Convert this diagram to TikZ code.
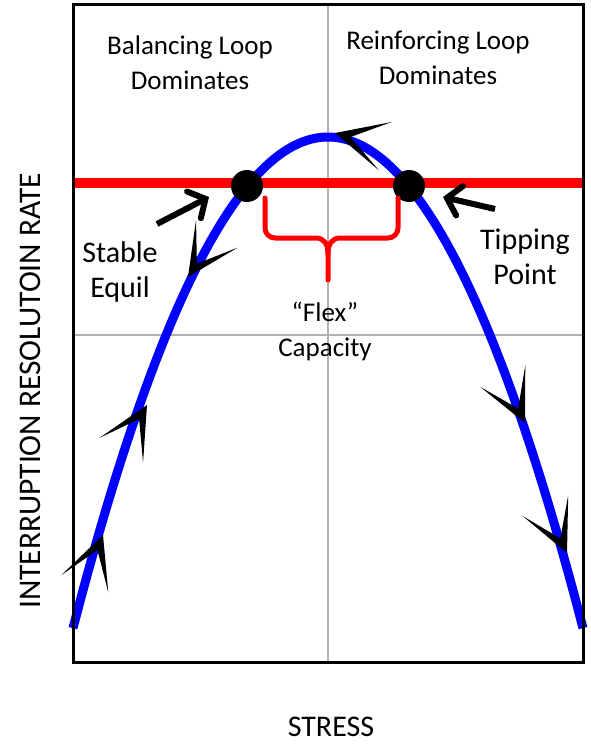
\documentclass[tikz,border=0pt]{standalone}
\usepackage{fontspec}
\setmainfont{Carlito}
\usetikzlibrary{arrows.meta}
\tikzset{
  gridline/.style={draw=black!30, line width=1.5},
  frameline/.style={draw=black, line width=3},
  redline/.style={draw=red, line width=10},
  curveline/.style={draw=blue, line width=9, line cap=butt},
  eqdot/.style={circle, fill=black, minimum size=32, inner sep=0},
  bracestyle/.style={draw=red, line width=5, line cap=round, line join=round},
  pointer/.style={draw=black, line width=6, -{Straight Barb[length=13pt,width=30pt,line cap=round]}},
  lbl/.style={font=\fontsize{30}{35}\selectfont, align=center, inner sep=0},
  head/.style={font=\fontsize{27}{35}\selectfont, align=center, inner sep=0},
  flowtip/.pic={\fill[black] (0,0) -- (-52,25) -- (-16,0) -- (-52,-25) -- cycle;}
}
\begin{document}
\begin{tikzpicture}[x=1pt,y=-1pt]
\useasboundingbox (0,0) rectangle (590,749);
% grid lines
\draw[gridline] (328,5) -- (328,662);
\draw[gridline] (73,335) -- (583,335);
% red line
\draw[redline] (73,183) -- (583,183);
% curve
\draw[curveline] plot[domain=73:583, samples=120, smooth] (\x, {137+0.00755*(\x-328)*(\x-328)});
% flow arrowheads
\pic[rotate=69.6] at (103,535) {flowtip};
\pic[rotate=60.4] at (147,405) {flowtip};
\pic[rotate=236.3] at (188,277) {flowtip};
\pic[rotate=165.3] at (335,133) {flowtip};
\pic[rotate=-64.6] at (525,423) {flowtip};
\pic[rotate=-65.5] at (567,553) {flowtip};
% equilibrium dots
\node[eqdot] (stab) at (247,186) {};
\node[eqdot] (tip) at (409,186) {};
% brace
\draw[bracestyle] (265,198) -- (265,228) arc[start angle=180, end angle=90, radius=10] -- (316,238)
  .. controls (324,238) and (328,244) .. (328,254) -- (328,280);
\draw[bracestyle] (398,198) -- (398,228) arc[start angle=0, end angle=90, radius=10] -- (340,238)
  .. controls (332,238) and (328,244) .. (328,254);
% pointer arrows
\coordinate (pa) at (157,224);
\coordinate (pb) at (495,209);
\draw[pointer] (pa) -- (209,197);
\draw[pointer] (pb) -- (443,197);
% frame
\draw[frameline] (73,5) rectangle (583,662);
% texts
\node[head] (bal) at (190,63) {Balancing Loop\\Dominates};
\node[head] (rein) at (438,58) {Reinforcing Loop\\Dominates};
\node[lbl] (stable) at (120,272) {Stable\\Equil};
\node[lbl] (tipping) at (525,257) {Tipping\\Point};
\node[head] (flex) at (325,331) {“Flex”\\Capacity};
\node[lbl] (xlab) at (331,727) {STRESS};
\node[lbl, rotate=90, font=\fontsize{31.5}{35}\selectfont] (ylab) at (30,391) {INTERRUPTION RESOLUTOIN RATE};
\end{tikzpicture}
\end{document}
